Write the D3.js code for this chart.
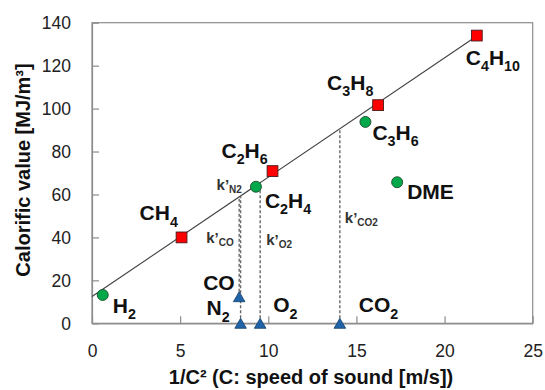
<!DOCTYPE html>
<html>
<head>
<meta charset="utf-8">
<script src="https://cdn.jsdelivr.net/npm/d3@7"></script>
<style>
  html, body { margin: 0; padding: 0; background: #fff; }
  svg { display: block; font-family: "Liberation Sans", Arial, sans-serif; }
</style>
</head>
<body>
<svg id="chart" width="545" height="390"></svg>
<script>
// Fuel gases: calorific value vs. 1/C^2
const alkaneNames  = ["CH4", "C2H6", "C3H8", "C4H10"];
const alkaneX      = [5.08, 10.24, 16.23, 21.83];
const alkaneY      = [40.0, 70.9, 101.6, 134.0];

const otherNames   = ["H2", "C2H4", "C3H6", "DME"];
const otherX       = [0.61, 9.30, 15.51, 17.31];
const otherY       = [13.2, 63.6, 93.8, 65.7];

const inertNames   = ["CO", "N2", "O2", "CO2"];
const inertX       = [8.35, 8.43, 9.54, 14.06];
const inertY       = [12.4, 0, 0, 0];

const kLabels      = ["N2", "CO", "O2", "CO2"];

const xTicks = [0, 5, 10, 15, 20, 25];
const yTicks = [0, 20, 40, 60, 80, 100, 120, 140];

const xTitle = "1/C² (C: speed of sound [m/s])";
const yTitle = "Calorific value [MJ/m³]";

// layout
const plot = { left: 92, right: 532.7, top: 22.7, bottom: 323.3 };

const svg = d3.select("#chart");
const x = d3.scaleLinear().domain([0, 25]).range([plot.left, plot.right]);
const y = d3.scaleLinear().domain([0, 140]).range([plot.bottom, plot.top]);

// least-squares line through the alkanes
const mx = d3.mean(alkaneX), my = d3.mean(alkaneY);
let sxy = 0, sxx = 0;
alkaneX.forEach((v, i) => { sxy += (v - mx) * (alkaneY[i] - my); sxx += (v - mx) * (v - mx); });
const slope = sxy / sxx, icpt = my - slope * mx;
const fit = v => icpt + slope * v;

// frame
svg.append("rect")
  .attr("x", plot.left).attr("y", plot.top)
  .attr("width", plot.right - plot.left).attr("height", plot.bottom - plot.top)
  .attr("fill", "none").attr("stroke", "#8c8c8c").attr("stroke-width", 1.2);

// axes with inward ticks
const xAxis = d3.axisBottom(x).tickValues(xTicks).tickSizeInner(-7).tickSizeOuter(0).tickPadding(0);
const yAxis = d3.axisLeft(y).tickValues(yTicks).tickSizeInner(-7).tickSizeOuter(0).tickPadding(0);

const gx = svg.append("g").attr("transform", `translate(0,${plot.bottom})`).call(xAxis);
gx.select(".domain").attr("stroke", "#8c8c8c").attr("stroke-width", 1.2);
gx.selectAll(".tick line").attr("stroke", "#8c8c8c").attr("stroke-width", 1.2);
gx.selectAll(".tick text")
  .attr("y", 34).attr("dy", null)
  .attr("font-size", 17.5).attr("fill", "#222")
  .attr("font-family", "'Liberation Sans', Arial, sans-serif");

const gy = svg.append("g").attr("transform", `translate(${plot.left},0)`).call(yAxis);
gy.select(".domain").attr("stroke", "#8c8c8c").attr("stroke-width", 1.2);
gy.selectAll(".tick line").attr("stroke", "#8c8c8c").attr("stroke-width", 1.2);
gy.selectAll(".tick text")
  .attr("x", -21).attr("dy", "0.35em")
  .attr("font-size", 17.5).attr("fill", "#222")
  .attr("font-family", "'Liberation Sans', Arial, sans-serif");

// axis titles
svg.append("text")
  .attr("x", 311).attr("y", 384)
  .attr("text-anchor", "middle").attr("font-size", 20).attr("font-weight", "bold").attr("fill", "#111")
  .text(xTitle);
svg.append("text")
  .attr("transform", `translate(30,170) rotate(-90)`)
  .attr("text-anchor", "middle").attr("font-size", 20).attr("font-weight", "bold").attr("fill", "#111")
  .text(yTitle);

// trend line
svg.append("line")
  .attr("x1", x(0)).attr("y1", y(fit(0)))
  .attr("x2", x(alkaneX[alkaneX.length - 1])).attr("y2", y(fit(alkaneX[alkaneX.length - 1])))
  .attr("stroke", "#404040").attr("stroke-width", 1.1);

// dashed drops from each inert gas to the trend line
svg.append("g").selectAll("line").data(inertX).join("line")
  .attr("x1", d => x(d)).attr("x2", d => x(d))
  .attr("y1", (d, i) => y(inertY[i])).attr("y2", d => y(fit(d)))
  .attr("stroke", "#6a6a6a").attr("stroke-width", 1.4).attr("stroke-dasharray", "3,2");

// markers
svg.append("g").selectAll("path").data(inertX).join("path")
  .attr("d", (d, i) => {
    const cx = x(d), cy = y(inertY[i]);
    return `M${cx - 5.8},${cy + 5}L${cx + 5.8},${cy + 5}L${cx},${cy - 5}Z`;
  })
  .attr("fill", "#1f63a8").attr("stroke", "#173f66").attr("stroke-width", 0.8);

svg.append("g").selectAll("circle").data(otherX).join("circle")
  .attr("cx", d => x(d)).attr("cy", (d, i) => y(otherY[i])).attr("r", 5.5)
  .attr("fill", "#00a84a").attr("stroke", "#1d4d2a").attr("stroke-width", 0.9);

svg.append("g").selectAll("rect").data(alkaneX).join("rect")
  .attr("x", d => x(d) - 5.4).attr("y", (d, i) => y(alkaneY[i]) - 5.4)
  .attr("width", 10.8).attr("height", 10.8)
  .attr("fill", "#ff0000").attr("stroke", "#4a1a1a").attr("stroke-width", 0.9);

// chemical formula labels: digits become subscripts
function formula(sel, name, size) {
  const parts = name.match(/[A-Za-z]+|\d+/g);
  const shift = size * 0.3;
  let lowered = false;
  parts.forEach(p => {
    const isSub = /\d/.test(p);
    const ts = sel.append("tspan").text(p);
    if (isSub) {
      ts.attr("font-size", size * 0.68);
      if (!lowered) { ts.attr("dy", shift); lowered = true; }
    } else if (lowered) {
      ts.attr("dy", -shift); lowered = false;
    }
  });
}

const labelSize = 21;
const labelOffset = {
  CH4: [-42, -17], C2H6: [-51, -13], C3H8: [-51, -15], C4H10: [-11, 29],
  H2: [10, 18], C2H4: [9, 21], C3H6: [7, 18], DME: [10, 17],
  CO: [-36, -7], N2: [-34, -8], O2: [13, -11], CO2: [19, -11]
};

function addLabels(names, xs, ys) {
  names.forEach((n, i) => {
    const [dx, dy] = labelOffset[n];
    const t = svg.append("text")
      .attr("x", x(xs[i]) + dx).attr("y", y(ys[i]) + dy)
      .attr("font-size", labelSize).attr("font-weight", "bold").attr("fill", "#111");
    formula(t, n, labelSize);
  });
}
addLabels(alkaneNames, alkaneX, alkaneY);
addLabels(otherNames, otherX, otherY);
addLabels(inertNames, inertX, inertY);

// k' coefficient labels beside the drops
const kOffset = { N2: [-24, -6], CO: [-33, 0], O2: [6, 0], CO2: [5, 0] };
const kBase   = { N2: "line", CO: 243, O2: 245, CO2: 223 };
kLabels.forEach(n => {
  const i = inertNames.indexOf(n);
  const xv = inertX[i];
  const [dx, dy] = kOffset[n];
  const by = kBase[n] === "line" ? y(fit(xv)) + dy : kBase[n];
  const t = svg.append("text")
    .attr("x", x(xv) + dx).attr("y", by)
    .attr("font-size", 15).attr("font-weight", "bold").attr("fill", "#333");
  t.append("tspan").text("k\u2019");
  t.append("tspan").attr("font-size", 10).attr("dy", 3).text(n);
});
</script>
</body>
</html>
